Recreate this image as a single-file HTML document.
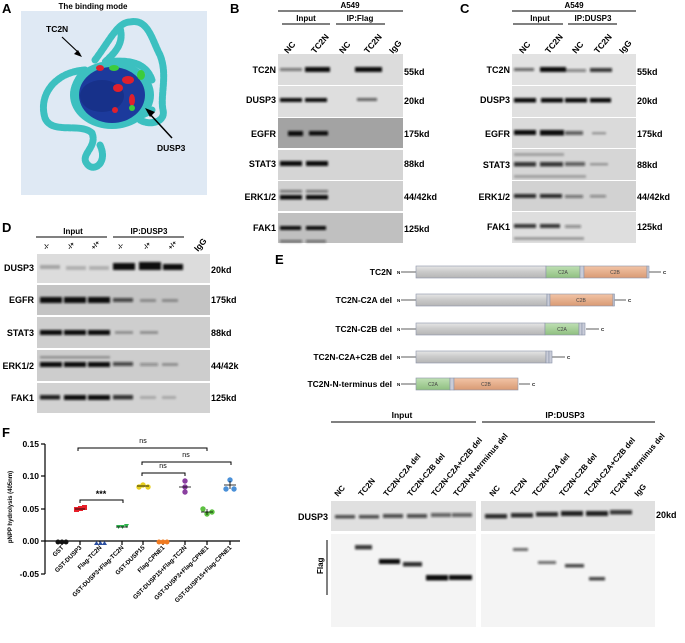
<!DOCTYPE html>
<html><head><meta charset="utf-8"><style>
html,body{margin:0;padding:0;background:#fff;}
svg{display:block;font-family:"Liberation Sans",Arial,sans-serif;font-weight:bold;}
</style></head><body>
<svg width="685" height="643" viewBox="0 0 685 643" xmlns="http://www.w3.org/2000/svg">
<defs>
<filter id="b" x="-20%" y="-20%" width="140%" height="140%"><feGaussianBlur stdDeviation="1"/></filter>
<linearGradient id="gg" x1="0" y1="0" x2="0" y2="1"><stop offset="0" stop-color="#e6e6e6"/><stop offset="0.5" stop-color="#c9c9c9"/><stop offset="1" stop-color="#b5b5b5"/></linearGradient>
<linearGradient id="gA" x1="0" y1="0" x2="0" y2="1"><stop offset="0" stop-color="#bfe0b4"/><stop offset="1" stop-color="#8fbf80"/></linearGradient>
<linearGradient id="gB" x1="0" y1="0" x2="0" y2="1"><stop offset="0" stop-color="#f2c4a6"/><stop offset="1" stop-color="#d99a74"/></linearGradient>
</defs>

<g font-size="13" fill="#000">
<text x="2" y="13">A</text><text x="230" y="13">B</text><text x="460" y="13">C</text>
<text x="2" y="232">D</text><text x="275" y="264">E</text><text x="2" y="437">F</text>
</g>

<!-- A -->
<text x="93" y="9" font-size="8" text-anchor="middle">The binding mode</text>
<rect x="21" y="11" width="186" height="184" fill="#dfe9f4"/>
<g fill="none" stroke="#3cc0c0" stroke-width="7" stroke-linecap="round" stroke-linejoin="round" stroke-dasharray="3 1.5">
<path d="M85 70 C55 72 38 95 45 118 C52 135 80 122 92 133 C98 148 78 155 88 165 C95 172 108 162 100 145"/>
<path d="M95 60 C110 40 118 22 130 22 C148 18 152 40 160 55 C168 75 160 95 163 110 C166 122 150 126 140 120"/>
<path d="M120 28 C125 45 112 55 105 62 C125 60 145 60 152 80"/>
<path d="M85 70 C72 85 68 102 85 112 C100 122 130 124 152 110"/>
</g>
<ellipse cx="112" cy="95" rx="42" ry="34" fill="#3cc0c0"/>
<ellipse cx="112" cy="95" rx="33" ry="28" fill="#1c3a9c"/>
<ellipse cx="102" cy="96" rx="22" ry="16" fill="#17318a"/>
<g fill="#e0202c"><ellipse cx="128" cy="80" rx="6" ry="4"/><ellipse cx="118" cy="88" rx="5" ry="4"/><ellipse cx="132" cy="100" rx="3" ry="6"/><ellipse cx="100" cy="68" rx="4" ry="3"/><ellipse cx="115" cy="110" rx="3" ry="3"/></g>
<g fill="#3ccc3c"><ellipse cx="141" cy="75" rx="4" ry="5"/><ellipse cx="114" cy="68" rx="5" ry="3"/><ellipse cx="132" cy="108" rx="3" ry="3"/></g>
<text x="46" y="32" font-size="8.5">TC2N</text>
<path d="M62 37 L80 54" stroke="#000" stroke-width="1.2"/><path d="M82 57 L74 54 L78 50 Z" fill="#000"/>
<text x="157" y="151" font-size="8.5">DUSP3</text>
<path d="M172 138 L148 112" stroke="#000" stroke-width="1.5"/><path d="M145 108 L155 112 L150 117 Z" fill="#000"/>

<!-- B -->
<g font-size="8">
<text x="350" y="8" text-anchor="middle">A549</text>
<text x="306" y="21" text-anchor="middle">Input</text>
<text x="360" y="21" text-anchor="middle">IP:Flag</text>
</g>
<g stroke="#000" stroke-width="1"><line x1="278" y1="11" x2="403" y2="11"/><line x1="282" y1="24" x2="330" y2="24"/><line x1="336" y1="24" x2="385" y2="24"/></g>
<g font-size="8.5">
<text transform="translate(288,54) rotate(-50)">NC</text>
<text transform="translate(315,54) rotate(-50)">TC2N</text>
<text transform="translate(343,54) rotate(-50)">NC</text>
<text transform="translate(368,54) rotate(-50)">TC2N</text>
<text transform="translate(393,54) rotate(-50)">IgG</text>
</g>
<g>
<rect x="278" y="54" width="125" height="31" fill="#dcdcdc"/>
<rect x="278" y="86" width="125" height="31" fill="#dedede"/>
<rect x="278" y="118" width="125" height="30" fill="#a3a3a3"/>
<rect x="278" y="150" width="125" height="30" fill="#d5d5d5"/>
<rect x="278" y="181" width="125" height="30" fill="#d0d0d0"/>
<rect x="278" y="213" width="125" height="30" fill="#c0c0c0"/>
</g>
<g filter="url(#b)" fill="#111">
<rect x="280" y="68" width="22" height="3" opacity="0.5"/><rect x="305" y="67" width="25" height="5"/><rect x="355" y="67" width="27" height="5"/>
<rect x="280" y="98" width="22" height="4"/><rect x="305" y="98" width="22" height="4"/><rect x="357" y="98" width="20" height="3" opacity="0.6"/>
<rect x="288" y="131" width="15" height="5"/><rect x="309" y="131" width="19" height="4.5"/>
<rect x="280" y="161" width="22" height="5"/><rect x="306" y="161" width="22" height="5"/>
<rect x="280" y="190" width="22" height="2.5" opacity="0.5"/><rect x="306" y="190" width="22" height="2.5" opacity="0.5"/>
<rect x="280" y="195" width="22" height="4.5"/><rect x="306" y="195" width="22" height="4.5"/>
<rect x="280" y="226" width="21" height="4"/><rect x="306" y="226" width="20" height="4"/>
<rect x="280" y="240" width="22" height="2.5" opacity="0.5"/><rect x="306" y="240" width="20" height="2.5" opacity="0.5"/>
</g>
<g font-size="9" text-anchor="end">
<text x="276" y="73">TC2N</text><text x="276" y="103">DUSP3</text><text x="276" y="137">EGFR</text>
<text x="276" y="167">STAT3</text><text x="276" y="200">ERK1/2</text><text x="276" y="231">FAK1</text>
</g>
<g font-size="9">
<text x="404" y="75">55kd</text><text x="404" y="104">20kd</text><text x="404" y="137">175kd</text>
<text x="404" y="167">88kd</text><text x="404" y="200">44/42kd</text><text x="404" y="232">125kd</text>
</g>

<!-- C -->
<g font-size="8">
<text x="574" y="8" text-anchor="middle">A549</text>
<text x="540" y="21" text-anchor="middle">Input</text>
<text x="593" y="21" text-anchor="middle">IP:DUSP3</text>
</g>
<g stroke="#000" stroke-width="1"><line x1="512" y1="11" x2="636" y2="11"/><line x1="513" y1="24" x2="563" y2="24"/><line x1="568" y1="24" x2="617" y2="24"/></g>
<g font-size="8.5">
<text transform="translate(523,54) rotate(-50)">NC</text>
<text transform="translate(549,54) rotate(-50)">TC2N</text>
<text transform="translate(576,54) rotate(-50)">NC</text>
<text transform="translate(598,54) rotate(-50)">TC2N</text>
<text transform="translate(623,54) rotate(-50)">IgG</text>
</g>
<g>
<rect x="512" y="54" width="124" height="31" fill="#e2e2e2"/>
<rect x="512" y="86" width="124" height="31" fill="#e0e0e0"/>
<rect x="512" y="118" width="124" height="30" fill="#dadada"/>
<rect x="512" y="149" width="124" height="31" fill="#d6d6d6"/>
<rect x="512" y="181" width="124" height="30" fill="#d2d2d2"/>
<rect x="512" y="212" width="124" height="31" fill="#dedede"/>
</g>
<g filter="url(#b)" fill="#111">
<rect x="514" y="68" width="20" height="3" opacity="0.6"/><rect x="540" y="67" width="26" height="5"/><rect x="566" y="69" width="20" height="3" opacity="0.45"/><rect x="590" y="68" width="22" height="4" opacity="0.8"/>
<rect x="514" y="98" width="22" height="4.5"/><rect x="541" y="98" width="22" height="4.5"/><rect x="565" y="98" width="22" height="4.5"/><rect x="590" y="98" width="21" height="4.5"/>
<rect x="514" y="130" width="22" height="5"/><rect x="540" y="130" width="24" height="5.5"/><rect x="565" y="131" width="18" height="4" opacity="0.6"/><rect x="592" y="132" width="14" height="2.5" opacity="0.3"/>
<rect x="514" y="153" width="50" height="3" opacity="0.25"/>
<rect x="514" y="162" width="22" height="4.5" opacity="0.8"/><rect x="540" y="162" width="23" height="4.5" opacity="0.8"/><rect x="565" y="162" width="20" height="4" opacity="0.6"/><rect x="590" y="163" width="18" height="2.5" opacity="0.3"/>
<rect x="514" y="175" width="72" height="3" opacity="0.25"/>
<rect x="514" y="194" width="22" height="4" opacity="0.85"/><rect x="540" y="194" width="22" height="4" opacity="0.85"/><rect x="565" y="195" width="18" height="3" opacity="0.5"/><rect x="590" y="195" width="16" height="2.5" opacity="0.4"/>
<rect x="514" y="224" width="22" height="4" opacity="0.8"/><rect x="540" y="224" width="20" height="4" opacity="0.8"/><rect x="565" y="225" width="16" height="3" opacity="0.4"/>
<rect x="514" y="237" width="70" height="3" opacity="0.3"/>
</g>
<g font-size="9" text-anchor="end">
<text x="510" y="73">TC2N</text><text x="510" y="103">DUSP3</text><text x="510" y="137">EGFR</text>
<text x="510" y="168">STAT3</text><text x="510" y="200">ERK1/2</text><text x="510" y="230">FAK1</text>
</g>
<g font-size="9">
<text x="637" y="75">55kd</text><text x="637" y="104">20kd</text><text x="637" y="137">175kd</text>
<text x="637" y="168">88kd</text><text x="637" y="200">44/42kd</text><text x="637" y="230">125kd</text>
</g>

<!-- D -->
<g font-size="8">
<text x="73" y="234" text-anchor="middle">Input</text>
<text x="149" y="234" text-anchor="middle">IP:DUSP3</text>
</g>
<g stroke="#000" stroke-width="1"><line x1="36" y1="237" x2="107" y2="237"/><line x1="113" y1="237" x2="184" y2="237"/></g>
<g font-size="6.5">
<text transform="translate(46,250) rotate(-50)">-/-</text>
<text transform="translate(70,250) rotate(-50)">-/+</text>
<text transform="translate(94,250) rotate(-50)">+/+</text>
<text transform="translate(120,250) rotate(-50)">-/-</text>
<text transform="translate(146,250) rotate(-50)">-/+</text>
<text transform="translate(171,250) rotate(-50)">+/+</text>
<text font-size="8.5" transform="translate(198,252) rotate(-50)">IgG</text>
</g>
<g>
<rect x="37" y="254" width="173" height="29" fill="#dcdcdc"/>
<rect x="37" y="285" width="173" height="30" fill="#c4c4c4"/>
<rect x="37" y="317" width="173" height="31" fill="#cecece"/>
<rect x="37" y="350" width="173" height="31" fill="#cdcdcd"/>
<rect x="37" y="383" width="173" height="30" fill="#d2d2d2"/>
</g>
<g filter="url(#b)" fill="#111">
<rect x="40" y="265" width="20" height="4" opacity="0.25"/><rect x="66" y="266" width="20" height="4" opacity="0.2"/><rect x="89" y="266" width="20" height="4" opacity="0.2"/>
<rect x="113" y="263" width="22" height="7"/><rect x="139" y="262" width="22" height="8"/><rect x="163" y="264" width="20" height="6"/>
<rect x="40" y="297" width="22" height="6"/><rect x="64" y="297" width="22" height="6"/><rect x="88" y="297" width="22" height="6"/><rect x="113" y="298" width="20" height="4" opacity="0.7"/><rect x="140" y="299" width="16" height="3" opacity="0.3"/><rect x="162" y="299" width="16" height="3" opacity="0.3"/>
<rect x="40" y="330" width="22" height="5"/><rect x="64" y="330" width="22" height="5"/><rect x="88" y="330" width="22" height="5"/><rect x="115" y="331" width="18" height="3" opacity="0.3"/><rect x="140" y="331" width="18" height="3" opacity="0.3"/>
<rect x="40" y="356" width="70" height="2.5" opacity="0.3"/>
<rect x="40" y="362" width="22" height="5"/><rect x="64" y="362" width="22" height="5"/><rect x="88" y="362" width="22" height="5"/><rect x="113" y="362" width="20" height="4" opacity="0.7"/><rect x="140" y="363" width="18" height="3" opacity="0.35"/><rect x="162" y="363" width="16" height="3" opacity="0.3"/>
<rect x="40" y="395" width="20" height="4.5" opacity="0.9"/><rect x="64" y="395" width="22" height="5"/><rect x="88" y="395" width="22" height="5"/><rect x="113" y="395" width="20" height="4.5" opacity="0.8"/><rect x="140" y="396" width="16" height="3" opacity="0.2"/><rect x="162" y="396" width="14" height="3" opacity="0.2"/>
</g>
<g font-size="9" text-anchor="end">
<text x="34" y="271">DUSP3</text><text x="34" y="303">EGFR</text><text x="34" y="336">STAT3</text><text x="34" y="369">ERK1/2</text><text x="34" y="401">FAK1</text>
</g>
<g font-size="9">
<text x="211" y="273">20kd</text><text x="211" y="303">175kd</text><text x="211" y="336">88kd</text><text x="211" y="369">44/42k</text><text x="211" y="401">125kd</text>
</g>

<!-- E diagrams -->
<g font-size="8.5" text-anchor="end">
<text x="392" y="275">TC2N</text><text x="392" y="303">TC2N-C2A del</text><text x="392" y="332">TC2N-C2B del</text><text x="392" y="360">TC2N-C2A+C2B del</text><text x="392" y="387">TC2N-N-terminus del</text>
</g>
<g font-size="4.5"><text x="397" y="274">N</text><text x="397" y="302">N</text><text x="397" y="331">N</text><text x="397" y="359">N</text><text x="397" y="386">N</text>
<text x="663" y="274">C</text><text x="628" y="302">C</text><text x="601" y="331">C</text><text x="567" y="359">C</text><text x="532" y="386">C</text></g>
<g stroke="#333" stroke-width="0.8">
<line x1="401" y1="272" x2="416" y2="272"/><line x1="649" y1="272" x2="661" y2="272"/>
<line x1="401" y1="300" x2="416" y2="300"/><line x1="614" y1="300" x2="626" y2="300"/>
<line x1="401" y1="329" x2="416" y2="329"/><line x1="586" y1="329" x2="599" y2="329"/>
<line x1="401" y1="357" x2="416" y2="357"/><line x1="552" y1="357" x2="565" y2="357"/>
<line x1="401" y1="384" x2="416" y2="384"/><line x1="519" y1="384" x2="530" y2="384"/>
</g>
<g stroke="#8a93a8" stroke-width="0.6">
<rect x="416" y="266" width="130" height="12" fill="url(#gg)"/><rect x="546" y="266" width="34" height="12" fill="url(#gA)"/><rect x="580" y="266" width="4" height="12" fill="#c9ccd8"/><rect x="584" y="266" width="63" height="12" fill="url(#gB)"/><rect x="647" y="266" width="2" height="12" fill="#c9ccd8"/>
<rect x="416" y="294" width="131" height="12" fill="url(#gg)"/><rect x="547" y="294" width="3" height="12" fill="#c9ccd8"/><rect x="550" y="294" width="63" height="12" fill="url(#gB)"/><rect x="613" y="294" width="1.5" height="12" fill="#c9ccd8"/>
<rect x="416" y="323" width="129" height="12" fill="url(#gg)"/><rect x="545" y="323" width="34" height="12" fill="url(#gA)"/><rect x="579" y="323" width="3" height="12" fill="#c9ccd8"/><rect x="582" y="323" width="3" height="12" fill="#c9ccd8"/>
<rect x="416" y="351" width="130" height="12" fill="url(#gg)"/><rect x="546" y="351" width="3" height="12" fill="#c9ccd8"/><rect x="549" y="351" width="3" height="12" fill="#c9ccd8"/>
<rect x="416" y="378" width="34" height="12" fill="url(#gA)"/><rect x="450" y="378" width="4" height="12" fill="#c9ccd8"/><rect x="454" y="378" width="64" height="12" fill="url(#gB)"/>
</g>
<g font-size="5" font-weight="normal" fill="#444" text-anchor="middle">
<text x="563" y="274">C2A</text><text x="615" y="274">C2B</text><text x="581" y="302">C2B</text><text x="562" y="331">C2A</text><text x="433" y="386">C2A</text><text x="486" y="386">C2B</text>
</g>

<!-- E blot -->
<g font-size="8.5">
<text x="402" y="418" text-anchor="middle">Input</text>
<text x="565" y="418" text-anchor="middle">IP:DUSP3</text>
</g>
<g stroke="#000" stroke-width="1"><line x1="331" y1="422" x2="476" y2="422"/><line x1="482" y1="422" x2="655" y2="422"/></g>
<g font-size="8">
<text transform="translate(338,497) rotate(-50)">NC</text>
<text transform="translate(362,497) rotate(-50)">TC2N</text>
<text transform="translate(387,497) rotate(-50)">TC2N-C2A del</text>
<text transform="translate(411,497) rotate(-50)">TC2N-C2B del</text>
<text transform="translate(435,497) rotate(-50)">TC2N-C2A+C2B del</text>
<text transform="translate(457,497) rotate(-50)">TC2N-N-terminus del</text>
<text transform="translate(493,497) rotate(-50)">NC</text>
<text transform="translate(514,497) rotate(-50)">TC2N</text>
<text transform="translate(536,497) rotate(-50)">TC2N-C2A del</text>
<text transform="translate(563,497) rotate(-50)">TC2N-C2B del</text>
<text transform="translate(588,497) rotate(-50)">TC2N-C2A+C2B del</text>
<text transform="translate(614,497) rotate(-50)">TC2N-N-terminus del</text>
<text transform="translate(638,497) rotate(-50)">IgG</text>
</g>
<rect x="331" y="501" width="145" height="30" fill="#e0e0e0"/>
<rect x="481" y="501" width="174" height="30" fill="#e0e0e0"/>
<rect x="331" y="534" width="145" height="93" fill="#f4f4f4"/>
<rect x="481" y="534" width="174" height="93" fill="#f4f4f4"/>
<g filter="url(#b)" fill="#111">
<rect x="335" y="515" width="20" height="3.5" opacity="0.7"/><rect x="359" y="515" width="20" height="3.5" opacity="0.7"/><rect x="383" y="514" width="20" height="4" opacity="0.7"/><rect x="407" y="514" width="20" height="4" opacity="0.7"/><rect x="431" y="513" width="20" height="4" opacity="0.6"/><rect x="452" y="513" width="20" height="4" opacity="0.6"/>
<rect x="485" y="514" width="22" height="4.5" opacity="0.85"/><rect x="511" y="513" width="22" height="4.5" opacity="0.85"/><rect x="536" y="512" width="22" height="4.5" opacity="0.85"/><rect x="561" y="511" width="22" height="5" opacity="0.9"/><rect x="586" y="511" width="22" height="5" opacity="0.9"/><rect x="610" y="510" width="22" height="4.5" opacity="0.8"/>
<rect x="355" y="545" width="17" height="4.5" opacity="0.8"/>
<rect x="379" y="559" width="21" height="5"/><rect x="403" y="562" width="19" height="4.5" opacity="0.85"/>
<rect x="426" y="575" width="22" height="5.5"/><rect x="449" y="575" width="23" height="5"/>
<rect x="513" y="548" width="15" height="3" opacity="0.6"/><rect x="538" y="561" width="18" height="3" opacity="0.6"/><rect x="565" y="564" width="19" height="3.5" opacity="0.75"/><rect x="589" y="577" width="16" height="3.5" opacity="0.75"/>
</g>
<text x="328" y="520" font-size="9" text-anchor="end">DUSP3</text>
<text x="656" y="518" font-size="9">20kd</text>
<text transform="translate(323,574) rotate(-90)" font-size="8">Flag</text>
<line x1="327" y1="540" x2="327" y2="595" stroke="#000" stroke-width="1"/>

<!-- F chart -->
<g stroke="#000" stroke-width="1.2" fill="none">
<line x1="45" y1="444" x2="45" y2="574"/>
<line x1="45" y1="541" x2="240" y2="541"/>
<line x1="41" y1="444" x2="45" y2="444"/><line x1="41" y1="476" x2="45" y2="476"/><line x1="41" y1="509" x2="45" y2="509"/><line x1="41" y1="541" x2="45" y2="541"/><line x1="41" y1="574" x2="45" y2="574"/>
<path d="M62 541v4M80 541v4M100 541v4M122 541v4M143 541v4M163 541v4M185 541v4M207 541v4M230 541v4"/>
</g>
<g font-size="8.5" text-anchor="end">
<text x="39" y="447">0.15</text><text x="39" y="479">0.10</text><text x="39" y="512">0.05</text><text x="39" y="544">0.00</text><text x="39" y="577">-0.05</text>
</g>
<text transform="translate(12,507) rotate(-90)" font-size="6" text-anchor="middle">pNPP hydrolysis (405nm)</text>
<g font-size="6.2" text-anchor="end">
<text transform="translate(64,548) rotate(-45)">GST</text>
<text transform="translate(82,548) rotate(-45)">GST-DUSP3</text>
<text transform="translate(102,548) rotate(-45)">Flag-TC2N</text>
<text transform="translate(124,548) rotate(-45)">GST-DUSP3+Flag-TC2N</text>
<text transform="translate(145,548) rotate(-45)">GST-DUSP15</text>
<text transform="translate(165,548) rotate(-45)">Flag-CPNE1</text>
<text transform="translate(187,548) rotate(-45)">GST-DUSP15+Flag-TC2N</text>
<text transform="translate(209,548) rotate(-45)">GST-DUSP3+Flag-CPNE1</text>
<text transform="translate(232,548) rotate(-45)">GST-DUSP15+Flag-CPNE1</text>
</g>
<g stroke="#000" stroke-width="1" fill="none">
<path d="M78 451v-3h129v3"/><path d="M142 465v-3h89v3"/><path d="M142 476v-3h43v3"/><path d="M80 503v-3h43v3"/>
</g>
<g font-size="7" font-weight="normal" text-anchor="middle">
<text x="143" y="443">ns</text><text x="186" y="457">ns</text><text x="163" y="468">ns</text>
</g>
<text x="101" y="497" font-size="9" text-anchor="middle">***</text>
<g>
<circle cx="58" cy="542" r="2.5" fill="#111"/><circle cx="62" cy="542" r="2.5" fill="#111"/><circle cx="66" cy="542" r="2.5" fill="#111"/>
<rect x="74" y="507" width="5" height="5" fill="#e8202a"/><rect x="78" y="506" width="5" height="5" fill="#e8202a"/><rect x="82" y="505" width="5" height="5" fill="#e8202a"/>
<path d="M94 545l2.5-4 2.5 4zM98 545l2.5-4 2.5 4zM102 545l2.5-4 2.5 4z" fill="#2b4fa0"/>
<path d="M116 525l2.5 4 2.5-4zM120 525l2.5 4 2.5-4zM124 524l2.5 4 2.5-4z" fill="#2bb34a"/>
<circle cx="139" cy="487" r="2.7" fill="#e8d020"/><circle cx="143" cy="485" r="2.7" fill="#e8d020"/><circle cx="148" cy="487" r="2.7" fill="#e8d020"/>
<circle cx="159" cy="542" r="2.5" fill="#f07a20"/><circle cx="163" cy="542" r="2.5" fill="#f07a20"/><circle cx="167" cy="542" r="2.5" fill="#f07a20"/>
<circle cx="185" cy="481" r="2.7" fill="#8a3fa0"/><circle cx="185" cy="487" r="2.7" fill="#8a3fa0"/><circle cx="185" cy="492" r="2.7" fill="#8a3fa0"/>
<circle cx="203" cy="509" r="2.7" fill="#5cc040"/><circle cx="207" cy="514" r="2.7" fill="#5cc040"/><circle cx="212" cy="512" r="2.7" fill="#5cc040"/>
<circle cx="230" cy="480" r="2.7" fill="#4a90d8"/><circle cx="226" cy="489" r="2.7" fill="#4a90d8"/><circle cx="234" cy="489" r="2.7" fill="#4a90d8"/>
</g>
<g stroke="#000" stroke-width="0.8">
<line x1="75" y1="509" x2="85" y2="509"/><line x1="137" y1="486" x2="149" y2="486"/><line x1="179" y1="487" x2="191" y2="487"/><line x1="201" y1="512" x2="213" y2="512"/><line x1="224" y1="485" x2="236" y2="485"/>
<line x1="116" y1="527" x2="128" y2="527"/><line x1="230" y1="481" x2="230" y2="489"/><line x1="207" y1="509" x2="207" y2="515"/>
</g>
</svg>
</body></html>
